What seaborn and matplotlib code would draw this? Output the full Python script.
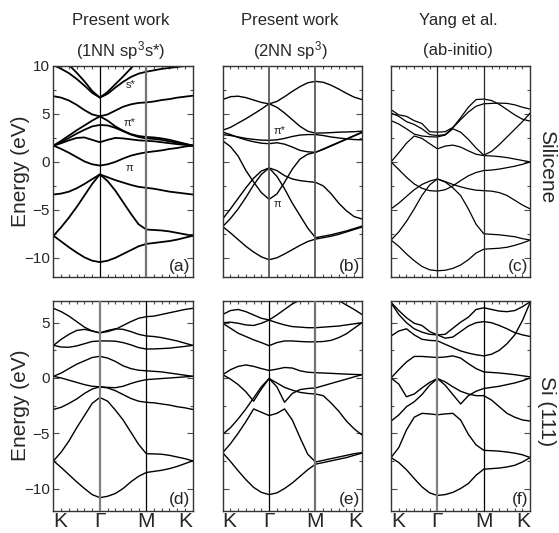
import numpy as np
import pandas as pd
import matplotlib
matplotlib.use("Agg")
import matplotlib.pyplot as plt
from matplotlib import font_manager
import seaborn as sns

# ---------------- data ----------------
K_PATH = [0.0, 0.167, 0.333, 0.5, 0.667, 0.833, 1.0, 1.167, 1.333, 1.5,
          1.667, 1.833, 2.0, 2.167, 2.333, 2.5, 2.667, 2.833, 3.0]
KPOINT_POS = [0, 1, 2, 3]
KPOINT_LABELS = ["K", "Γ", "M", "K"]
TITLES_1 = ["Present work", "Present work", "Yang et al."]
TITLES_2 = ["(1NN sp$^3$s*)", "(2NN sp$^3$)", "(ab-initio)"]
ROW_LABELS = ["Silicene", "Si (111)"]
PANEL_LABELS = ["(a)", "(b)", "(c)", "(d)", "(e)", "(f)"]

BANDS_A = [
    [-7.7, -8.3, -8.9, -9.45, -9.95, -10.3, -10.45, -10.3, -10.0, -9.6, -9.2, -8.8, -8.55, -8.45, -8.35, -8.25, -8.1, -7.9, -7.7],
    [-7.7, -6.8, -5.8, -4.7, -3.5, -2.3, -1.3, -2.0, -3.0, -4.2, -5.4, -6.5, -7.05, -7.1, -7.15, -7.25, -7.4, -7.55, -7.7],
    [-3.4, -3.3, -3.1, -2.75, -2.3, -1.8, -1.3, -1.6, -1.9, -2.15, -2.4, -2.6, -2.7, -2.8, -2.95, -3.1, -3.2, -3.3, -3.4],
    [1.7, 1.35, 0.95, 0.5, 0.05, -0.25, -0.38, -0.25, 0.0, 0.35, 0.65, 0.85, 1.0, 1.1, 1.2, 1.35, 1.45, 1.6, 1.7],
    [1.7, 1.95, 2.25, 2.5, 2.55, 2.3, 2.05, 2.3, 2.5, 2.45, 2.35, 2.25, 2.2, 2.15, 2.05, 1.95, 1.85, 1.78, 1.7],
    [1.7, 2.05, 2.5, 2.95, 3.35, 3.7, 3.85, 3.8, 3.55, 3.2, 2.85, 2.6, 2.45, 2.4, 2.3, 2.15, 2.0, 1.85, 1.7],
    [1.7, 2.2, 2.75, 3.3, 3.8, 4.3, 4.75, 4.3, 3.7, 3.25, 2.9, 2.7, 2.6, 2.55, 2.45, 2.3, 2.1, 1.9, 1.7],
    [6.85, 6.7, 6.4, 5.95, 5.4, 4.95, 4.75, 4.95, 5.35, 5.75, 6.0, 6.15, 6.2, 6.3, 6.45, 6.55, 6.7, 6.8, 6.9],
    [10.1, 9.7, 9.25, 8.65, 7.95, 7.2, 6.7, 7.1, 7.75, 8.35, 8.85, 9.2, 9.4, 9.55, 9.7, 9.8, 9.9, 10.0, 10.1],
    [11.8, 11.0, 10.1, 9.3, 8.4, 7.4, 6.7, 7.3, 8.1, 8.9, 9.75, 10.6, 11.3, 11.6, 11.8, 11.9, 12.0, 12.0, 11.8],
]
BANDS_B = [
    [-6.75, -7.4, -8.1, -8.8, -9.4, -9.9, -10.2, -10.0, -9.6, -9.15, -8.7, -8.3, -8.05, -7.9, -7.75, -7.55, -7.3, -7.05, -6.8],
    [-6.75, -5.9, -4.9, -3.7, -2.4, -1.3, -0.63, -1.5, -2.8, -4.3, -5.6, -6.9, -7.9, -7.75, -7.6, -7.4, -7.2, -6.95, -6.7],
    [-5.95, -4.9, -3.8, -2.7, -1.7, -0.95, -0.63, -0.9, -1.43, -1.78, -1.95, -2.05, -2.13, -2.5, -3.3, -4.3, -5.1, -5.7, -5.95],
    [2.2, 1.6, 0.6, -0.9, -2.1, -3.2, -3.9, -3.35, -2.13, -0.75, 0.3, 0.8, 1.0, 1.35, 1.7, 2.05, 2.4, 2.75, 3.1],
    [3.1, 2.85, 2.55, 2.3, 2.1, 1.95, 1.9, 2.0, 1.85, 1.55, 1.2, 1.05, 1.0, 1.3, 1.65, 2.0, 2.35, 2.7, 3.05],
    [2.85, 2.75, 2.6, 2.45, 2.35, 2.27, 2.25, 2.3, 2.45, 2.65, 2.8, 2.85, 2.85, 2.75, 2.6, 2.5, 2.4, 2.33, 2.3],
    [3.3, 3.6, 4.05, 4.5, 5.0, 5.5, 6.06, 5.7, 5.1, 4.4, 3.7, 3.2, 3.0, 3.02, 3.05, 3.1, 3.12, 3.15, 3.2],
    [6.5, 6.8, 6.85, 6.7, 6.45, 6.2, 6.05, 6.3, 6.8, 7.35, 7.85, 8.25, 8.4, 8.3, 8.0, 7.6, 7.15, 6.75, 6.5],
]
BANDS_C = [
    [-8.15, -8.8, -9.6, -10.3, -10.9, -11.25, -11.35, -11.3, -11.1, -10.75, -10.2, -9.5, -9.1, -9.05, -9.0, -8.9, -8.7, -8.45, -8.15],
    [-8.15, -7.3, -6.2, -4.9, -3.5, -2.4, -1.78, -2.1, -2.7, -3.5, -4.9, -6.5, -7.5, -7.55, -7.6, -7.7, -7.8, -8.0, -8.15],
    [-4.9, -4.3, -3.6, -2.9, -2.35, -2.0, -1.78, -2.05, -2.35, -2.6, -2.8, -2.95, -3.0, -3.05, -3.2, -3.5, -4.0, -4.5, -4.9],
    [0.0, -0.8, -1.6, -2.3, -2.75, -3.0, -3.05, -2.9, -2.5, -1.95, -1.45, -1.1, -0.9, -0.85, -0.75, -0.6, -0.45, -0.25, 0.0],
    [0.0, 0.95, 1.95, 2.7, 2.45, 1.9, 1.36, 1.65, 1.75, 1.55, 1.15, 0.8, 0.66, 0.62, 0.55, 0.45, 0.3, 0.15, 0.0],
    [4.3, 3.95, 3.45, 2.9, 2.7, 2.62, 2.6, 2.8, 3.45, 3.1, 2.35, 1.45, 0.7, 1.1, 1.8, 2.6, 3.4, 4.2, 5.1],
    [5.1, 4.75, 4.2, 3.9, 3.45, 2.85, 2.75, 2.85, 3.55, 4.4, 5.2, 5.8, 6.06, 6.1, 6.13, 6.1, 5.95, 5.7, 5.5],
    [5.45, 4.9, 4.75, 4.3, 4.0, 3.15, 3.1, 3.15, 3.6, 4.6, 5.7, 6.5, 6.55, 6.4, 6.0, 5.45, 4.9, 4.45, 4.25],
]
BANDS_D = [
    [-7.5, -8.1, -8.75, -9.4, -10.0, -10.55, -10.83, -10.7, -10.45, -10.0, -9.4, -8.9, -8.55, -8.45, -8.35, -8.2, -8.0, -7.75, -7.5],
    [-7.5, -6.7, -5.7, -4.5, -3.4, -2.3, -1.76, -2.1, -2.9, -3.8, -4.9, -6.0, -6.85, -6.87, -6.9, -7.0, -7.15, -7.3, -7.5],
    [-2.85, -2.65, -2.3, -1.9, -1.4, -1.0, -0.8, -0.9, -1.15, -1.5, -1.85, -2.1, -2.2, -2.25, -2.35, -2.45, -2.6, -2.7, -2.85],
    [0.15, 0.0, -0.2, -0.4, -0.6, -0.75, -0.8, -0.85, -0.88, -0.75, -0.5, -0.3, -0.15, -0.1, -0.05, 0.0, 0.05, 0.1, 0.15],
    [0.15, 0.45, 0.85, 1.25, 1.55, 1.85, 1.96, 1.8, 1.5, 1.1, 0.85, 0.7, 0.65, 0.6, 0.55, 0.45, 0.35, 0.25, 0.15],
    [2.95, 2.8, 2.78, 2.9, 3.1, 3.3, 3.35, 3.35, 3.33, 3.2, 3.0, 2.75, 2.62, 2.63, 2.66, 2.7, 2.78, 2.86, 2.95],
    [2.95, 3.5, 3.95, 4.3, 4.4, 4.25, 4.08, 4.3, 4.45, 4.4, 4.2, 3.95, 3.8, 3.75, 3.65, 3.5, 3.35, 3.15, 2.95],
    [6.3, 6.0, 5.6, 5.1, 4.6, 4.25, 4.08, 4.2, 4.4, 4.75, 5.1, 5.4, 5.55, 5.6, 5.75, 5.9, 6.05, 6.2, 6.3],
]
BANDS_E = [
    [-6.76, -7.55, -8.4, -9.2, -9.9, -10.35, -10.55, -10.4, -10.0, -9.5, -8.9, -8.3, -7.8, -7.65, -7.5, -7.35, -7.2, -7.0, -6.8],
    [-6.76, -5.95, -5.0, -3.95, -2.8, -3.1, -3.4, -3.2, -2.8, -3.8, -5.4, -6.9, -7.6, -7.45, -7.3, -7.15, -7.0, -6.85, -6.75],
    [-5.1, -4.5, -3.7, -2.8, -1.8, -0.8, -0.05, -0.45, -0.85, -1.1, -1.3, -1.4, -1.45, -1.6, -2.25, -3.0, -3.9, -4.6, -5.15],
    [0.3, -0.1, -0.6, -1.25, -2.1, -1.0, -0.05, -0.8, -2.2, -1.4, -1.05, -0.95, -0.9, -0.7, -0.5, -0.3, -0.1, 0.1, 0.3],
    [0.3, 0.75, 1.05, 1.18, 1.05, 0.85, 0.68, 0.8, 0.95, 0.9, 0.65, 0.52, 0.48, 0.45, 0.42, 0.38, 0.35, 0.32, 0.3],
    [4.95, 4.5, 4.05, 3.75, 3.45, 3.2, 2.92, 3.2, 3.35, 3.35, 3.3, 3.27, 3.27, 3.3, 3.4, 3.65, 4.0, 4.5, 5.0],
    [5.0, 5.05, 4.95, 4.8, 4.75, 4.95, 5.24, 5.0, 4.8, 4.65, 4.6, 4.55, 4.55, 4.6, 4.65, 4.7, 4.8, 4.9, 5.0],
    [5.75, 6.1, 6.2, 6.0, 5.7, 5.4, 5.25, 5.7, 6.2, 6.7, 7.05, 7.4, 7.6, 7.5, 7.2, 7.0, 6.6, 6.2, 5.75],
]
BANDS_F = [
    [-7.2, -7.65, -8.3, -9.1, -9.85, -10.4, -10.63, -10.55, -10.35, -10.0, -9.55, -8.8, -8.25, -8.2, -8.15, -8.05, -7.9, -7.6, -7.2],
    [-7.2, -6.3, -4.7, -3.55, -3.2, -3.25, -3.33, -3.25, -3.2, -3.8, -5.1, -6.05, -6.55, -6.58, -6.62, -6.7, -6.8, -6.95, -7.2],
    [-3.9, -3.35, -2.6, -2.15, -1.5, -0.65, -0.05, -0.35, -0.8, -1.2, -1.45, -1.6, -1.6, -2.0, -2.6, -3.2, -3.55, -3.8, -3.9],
    [0.0, -0.55, -1.7, -1.45, -0.9, -0.4, -0.05, -0.65, -1.5, -2.35, -1.6, -1.2, -0.95, -0.85, -0.75, -0.6, -0.45, -0.25, 0.0],
    [0.0, 0.75, 1.45, 1.95, 1.95, 1.9, 1.85, 1.9, 2.0, 1.8, 1.3, 0.85, 0.55, 0.5, 0.45, 0.38, 0.3, 0.2, 0.1],
    [3.8, 4.25, 4.45, 3.9, 3.5, 3.4, 3.36, 3.05, 2.75, 2.45, 2.25, 2.1, 2.0, 2.15, 2.5, 3.1, 3.9, 5.2, 6.85],
    [6.8, 5.75, 5.0, 4.45, 4.15, 3.95, 3.9, 3.6, 3.7, 4.2, 4.7, 5.0, 5.1, 5.0, 4.75, 4.45, 4.1, 3.9, 3.75],
    [6.85, 6.1, 5.45, 4.95, 4.75, 4.2, 3.9, 3.95, 4.5, 5.05, 5.5, 6.2, 6.35, 6.2, 6.05, 6.0, 6.1, 6.45, 6.9],
]
ALL_BANDS = [BANDS_A, BANDS_B, BANDS_C, BANDS_D, BANDS_E, BANDS_F]

YLIM_TOP = (-12, 10)
YLIM_BOT = (-12, 7)
Y_TICKS_TOP = [-10, -5, 0, 5, 10]
Y_TICKS_BOT = [-10, -5, 0, 5]

# annotations: (panel, text, k, E)
ANNOT_TEXT = ["s*", "π*", "π", "π*", "π"]
ANNOT_PANEL = [0, 0, 0, 1, 1]
ANNOT_K = [1.66, 1.64, 1.64, 1.22, 1.17]
ANNOT_E = [8.0, 4.1, -0.65, 3.2, -4.4]

# ---------------- style ----------------
sns.set_style("ticks")
plt.rcParams['font.family'] = ['Liberation Sans', 'DejaVu Sans']
plt.rcParams['mathtext.fontset'] = 'custom'
plt.rcParams['mathtext.rm'] = 'Liberation Sans'
plt.rcParams['mathtext.it'] = 'Liberation Sans:italic'
plt.rcParams['mathtext.default'] = 'regular'

try:
    font_manager.findfont('Liberation Sans Narrow', fallback_to_default=False)
    HAS_NARROW = True
except Exception:
    HAS_NARROW = False
NARROW = ['Liberation Sans Narrow', 'Liberation Sans', 'DejaVu Sans'] if HAS_NARROW \
    else ['Liberation Sans', 'DejaVu Sans']
TITLE_FS = 14 if HAS_NARROW else 12
KLAB_FS = 16 if HAS_NARROW else 15

fig = plt.figure(figsize=(5.59, 5.33), dpi=100)
col_left = [0.0957, 0.3984, 0.6995]
col_w = 0.249
row_bottom = [0.4803, 0.0420]
row_h = [0.3959, 0.3940]

vline_style = {
    0: [('k', 0.9), ('0.45', 1.6)],
    1: [('0.35', 1.3), ('0.35', 1.3)],
    2: [('0.15', 0.9), ('0.15', 0.9)],
    3: [('0.5', 1.6), ('k', 0.9)],
    4: [('k', 0.9), ('0.45', 1.6)],
    5: [('0.5', 1.6), ('k', 0.9)],
}
band_lw = [1.3, 1.0, 0.9, 1.0, 1.0, 1.0]

axes = []
for i, bands in enumerate(ALL_BANDS):
    r, c = divmod(i, 3)
    ax = fig.add_axes([col_left[c], row_bottom[r], col_w, row_h[r]])
    axes.append(ax)
    rows = []
    for b, vals in enumerate(bands):
        for k, e in zip(K_PATH, vals):
            rows.append({"k": k, "E": e, "band": b})
    df = pd.DataFrame(rows)
    sns.lineplot(data=df, x="k", y="E", units="band", estimator=None,
                 color="k", lw=band_lw[i], sort=False, legend=False, ax=ax)
    for xpos, (col, lw) in zip([1, 2], vline_style[i]):
        ax.axvline(xpos, color=col, lw=lw, zorder=3)
    ax.set_xlim(0, 3)
    if r == 0:
        ax.set_ylim(*YLIM_TOP)
        ax.set_yticks(Y_TICKS_TOP)
    else:
        ax.set_ylim(*YLIM_BOT)
        ax.set_yticks(Y_TICKS_BOT)
    ax.yaxis.set_minor_locator(matplotlib.ticker.MultipleLocator(2.5))
    ax.set_xticks(KPOINT_POS)
    ax.xaxis.set_minor_locator(matplotlib.ticker.MultipleLocator(1 / 6))
    ax.tick_params(which='both', direction='in', top=True, right=True,
                   bottom=True, left=True, width=0.8, color='0.3')
    ax.tick_params(which='major', axis='y', length=4, labelsize=11, pad=2.5)
    ax.tick_params(which='minor', axis='y', length=2)
    ax.tick_params(which='major', axis='x', length=0, pad=1.2)
    ax.tick_params(which='minor', axis='x', length=2.5)
    ax.set_xlabel("")
    ax.set_ylabel("")
    if r == 1:
        ax.set_xticklabels(KPOINT_LABELS, fontsize=KLAB_FS, family=NARROW)
        tl = ax.get_xticklabels()
        tl[0].set_ha('left')
        tl[-1].set_ha('right')
    else:
        ax.set_xticklabels([])
    if c != 0:
        ax.set_yticklabels([])
    for sp in ax.spines.values():
        sp.set_linewidth(1.0)
        sp.set_color('0.2')
    ax.text(0.985, 0.015, PANEL_LABELS[i], transform=ax.transAxes,
            ha='right', va='bottom', fontsize=12.5)

for t, p, kx, ey in zip(ANNOT_TEXT, ANNOT_PANEL, ANNOT_K, ANNOT_E):
    axes[p].text(kx, ey, t, fontsize=8, ha='center', va='center')

# titles
for c in range(3):
    xc = col_left[c] + col_w / 2 - 0.004
    fig.text(xc, 0.962, TITLES_1[c], ha='center', va='center',
             fontsize=TITLE_FS, family=NARROW)
    fig.text(xc, 0.906, TITLES_2[c], ha='center', va='center',
             fontsize=TITLE_FS, family=NARROW)

# y labels and row labels
for r in range(2):
    yc = row_bottom[r] + row_h[r] / 2
    fig.text(0.036, yc, "Energy (eV)", rotation=90, ha='center', va='center', fontsize=15)
fig.text(0.977, 0.687, ROW_LABELS[0], rotation=270, ha='center', va='center', fontsize=15)
fig.text(0.977, 0.228, ROW_LABELS[1], rotation=270, ha='center', va='center', fontsize=15)

fig.savefig("out.png", dpi=100)
